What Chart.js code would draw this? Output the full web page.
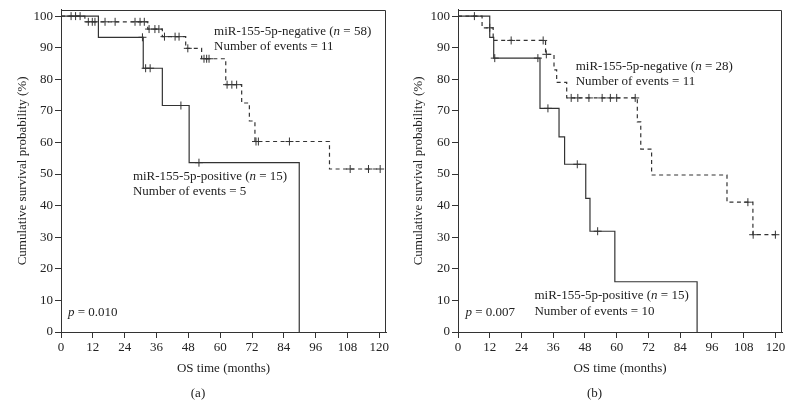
<!DOCTYPE html>
<html>
<head>
<meta charset="utf-8">
<script src="https://cdn.jsdelivr.net/npm/chart.js@4.4.0/dist/chart.umd.min.js"></script>
<style>
  html, body { margin: 0; padding: 0; background: #fff; }
  .panel { position: absolute; top: 0; height: 420px; }
</style>
</head>
<body>
<div class="panel" style="left:0;width:396px"><canvas id="chart-a" width="396" height="420"></canvas></div>
<div class="panel" style="left:396px;width:397px"><canvas id="chart-b" width="397" height="420"></canvas></div>
<script>
// axes
const xTicks = [0, 12, 24, 36, 48, 60, 72, 84, 96, 108, 120];
const yTicks = [0, 10, 20, 30, 40, 50, 60, 70, 80, 90, 100];

// (a) miR-155-5p-negative (n = 58)
const negA_time = [0, 9.0, 32.7, 38.2, 47.0, 53.0, 62.1, 68.1, 71.0, 73.1, 101.2, 120.3];
const negA_surv = [100, 98.2, 95.9, 93.5, 89.8, 86.5, 78.3, 72.5, 66.8, 60.3, 51.6, 51.6];
const negA_cens = [3.8, 5.5, 7.2, 10.3, 11.8, 12.8, 16.6, 20.4, 27.9, 29.8, 31.4, 33.2, 35.4, 36.9,
  39.0, 43.0, 44.5, 47.8, 53.9, 54.9, 55.8, 62.6, 64.4, 66.2, 73.5, 74.4, 86.1, 109.0, 115.9, 120.3];
// (a) miR-155-5p-positive (n = 15)
const posA_time = [0, 14.1, 31.0, 38.2, 48.3, 89.8];
const posA_surv = [100, 93.3, 83.5, 71.7, 53.6, 0];
const posA_cens = [30.7, 31.9, 33.6, 45.2, 52.0];

// (b) miR-155-5p-negative (n = 28)
const negB_time = [0, 9.1, 13.3, 33.1, 36.3, 37.3, 41.1, 67.8, 69.1, 73.2, 101.7, 111.5, 120.0];
const negB_surv = [100, 96.3, 92.3, 87.9, 83.0, 79.0, 74.1, 66.5, 57.9, 49.7, 41.1, 30.8, 30.8];
const negB_cens = [6.2, 12.0, 20.1, 32.2, 33.4, 42.8, 45.3, 49.5, 54.5, 57.6, 60.0, 67.0, 109.6, 111.6, 120.0];
// (b) miR-155-5p-positive (n = 15)
const posB_time = [0, 12.0, 13.5, 31.0, 38.2, 40.3, 48.3, 49.9, 59.3, 90.4];
const posB_surv = [100, 93.3, 86.7, 70.8, 61.8, 53.1, 42.3, 31.9, 15.9, 0];
const posB_cens = [13.9, 30.2, 34.0, 45.1, 52.8];

// texts
const notesA = [
  ["miR-155-5p-negative (", "*n", " = 58)"], ["Number of events = 11"],
  ["miR-155-5p-positive (", "*n", " = 15)"], ["Number of events = 5"],
  ["*p", " = 0.010"]
];
const notesB = [
  ["miR-155-5p-negative (", "*n", " = 28)"], ["Number of events = 11"],
  ["miR-155-5p-positive (", "*n", " = 15)"], ["Number of events = 10"],
  ["*p", " = 0.007"]
];

const INK = "#333";
const FONT = "'Liberation Serif', 'Times New Roman', serif";

function curve(times, surv) {
  return times.map((t, i) => ({ x: t, y: surv[i] }));
}

// level of the KM step at time t
function levelAt(times, surv, t) {
  let s = surv[0];
  for (let i = 0; i < times.length; i++) {
    if (times[i] <= t) s = surv[i];
  }
  return s;
}

function censMarks(times, surv, cens) {
  return cens.map(t => ({ x: t, y: levelAt(times, surv, t) }));
}

// frame + text notes
const framePlugin = {
  id: "frame",
  afterDraw(chart, args, opts) {
    const ctx = chart.ctx;
    const a = chart.chartArea;
    ctx.save();
    ctx.strokeStyle = INK;
    ctx.lineWidth = 1;
    ctx.beginPath();
    const top = Math.round(a.top) + 0.5;
    const right = Math.round(a.right) - 0.5;
    ctx.moveTo(a.left, top);
    ctx.lineTo(right, top);
    ctx.lineTo(right, a.bottom);
    ctx.stroke();

    const xs = chart.scales.x, ys = chart.scales.y;
    ctx.fillStyle = "#222";
    ctx.textBaseline = "middle";
    ctx.textAlign = "left";
    opts.notes.forEach((parts, i) => {
      const pos = opts.at[i];
      let x = xs.getPixelForValue(pos[0]);
      const y = ys.getPixelForValue(pos[1]);
      parts.forEach(p => {
        const italic = p.startsWith("*");
        const txt = italic ? p.slice(1) : p;
        ctx.font = (italic ? "italic " : "") + "13px " + FONT;
        ctx.fillText(txt, x, y);
        x += ctx.measureText(txt).width;
      });
    });

    ctx.font = "13px " + FONT;
    ctx.textAlign = "center";
    ctx.fillText(opts.letter, chart.width / 2, 394);
    ctx.restore();
  }
};

function makeChart(id, neg, pos, notes, at, letter, yWidth) {
  const lineStyle = { borderColor: INK, borderWidth: 1.2, pointRadius: 0, stepped: "before", fill: false };
  const markStyle = { borderColor: INK, borderWidth: 1, pointStyle: "cross", pointRadius: 4, showLine: false };
  new Chart(document.getElementById(id), {
    type: "line",
    data: {
      datasets: [
        Object.assign({ data: curve(neg[0], neg[1]), borderDash: [4, 3.5] }, lineStyle),
        Object.assign({ data: curve(pos[0], pos[1]) }, lineStyle),
        Object.assign({ data: censMarks(neg[0], neg[1], neg[2]) }, markStyle),
        Object.assign({ data: censMarks(pos[0], pos[1], pos[2]) }, markStyle)
      ]
    },
    options: {
      responsive: false,
      animation: false,
      devicePixelRatio: 1,
      layout: { padding: { top: 8, right: 396 - 386 + (yWidth > 61 ? 1 : 0), left: 0, bottom: 0 } },
      plugins: {
        legend: { display: false },
        tooltip: { enabled: false },
        frame: { notes: notes, at: at, letter: letter }
      },
      scales: {
        x: {
          type: "linear",
          min: 0,
          max: 122.5,
          afterBuildTicks: s => { s.ticks = xTicks.map(v => ({ value: v })); },
          afterFit: s => { s.height = 88; },
          border: { display: true, color: INK, width: 1 },
          grid: { drawOnChartArea: false, drawTicks: true, tickLength: 6, color: INK },
          ticks: { color: "#222", font: { family: FONT, size: 13 }, padding: 2, maxRotation: 0 },
          title: {
            display: true, text: "OS time (months)", color: "#222",
            font: { family: FONT, size: 13 }, padding: { top: 0, bottom: 44 }
          }
        },
        y: {
          min: 0,
          max: 102,
          afterBuildTicks: s => { s.ticks = yTicks.map(v => ({ value: v })); },
          afterFit: s => { s.width = yWidth; },
          border: { display: true, color: INK, width: 1 },
          grid: { drawOnChartArea: false, drawTicks: true, tickLength: 6, color: INK },
          ticks: { color: "#222", font: { family: FONT, size: 13 }, padding: 2 },
          title: {
            display: true, text: "Cumulative survival probability (%)", color: "#222",
            font: { family: FONT, size: 13 }, padding: { top: 15, bottom: 0 }
          }
        }
      }
    },
    plugins: [framePlugin]
  });
}

makeChart("chart-a",
  [negA_time, negA_surv, negA_cens],
  [posA_time, posA_surv, posA_cens],
  notesA,
  [[57.7, 95.1], [57.7, 90.5], [27.1, 49.2], [27.1, 44.3], [2.6, 6.3]],
  "(a)", 61);

makeChart("chart-b",
  [negB_time, negB_surv, negB_cens],
  [posB_time, posB_surv, posB_cens],
  notesB,
  [[44.5, 84.1], [44.5, 79.3], [28.9, 11.4], [28.9, 6.5], [2.8, 6.0]],
  "(b)", 62);
</script>
</body>
</html>
